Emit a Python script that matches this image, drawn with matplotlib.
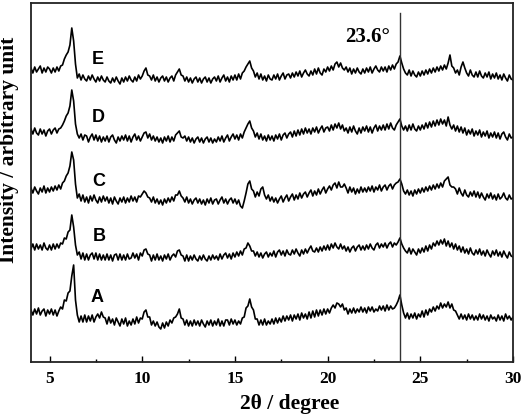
import numpy as np
import matplotlib
matplotlib.use('Agg')
import matplotlib.pyplot as plt
from matplotlib.ticker import MultipleLocator

# 2theta grid, 4.0 .. 30.0 step 0.1
two_theta = np.round(np.arange(4.0, 30.05, 0.1), 1)

# intensities (arb.) relative to each pattern's own baseline
sample_A = [
    2, -3, 3, -2, 4, -3, 1, 3, -4, 2,
    -2, 3, -3, 2, -4, 1, 5, 3, 12, 11,
    19, 21, 36, 47, 12, -3, -10, -4, -10, -3,
    -10, -4, -9, -3, -10, -5, -2, -6, 0, -5,
    -6, -12, -5, -11, -7, -13, -6, -10, -14, -7,
    -12, -6, -14, -9, -13, -7, -12, -5, -11, -6,
    -7, 0, 2, -5, -5, -13, -9, -14, -10, -15,
    -17, -11, -16, -10, -14, -8, -11, -6, -5, -2,
    3, -6, -7, -13, -8, -14, -9, -14, -8, -13,
    -9, -14, -8, -12, -15, -9, -13, -8, -14, -9,
    -13, -7, -14, -9, -14, -8, -8, -13, -7, -12,
    -8, -13, -9, -12, -6, -5, 4, 6, 13, 5,
    2, -7, -7, -13, -8, -13, -7, -13, -9, -12,
    -7, -12, -6, -11, -6, -10, -4, -9, -4, -8,
    -3, -9, -3, -7, -2, -8, -1, -6, -2, -7,
    0, -6, 1, -5, 2, -4, 2, -3, 3, -2,
    3, -1, 4, 7, 4, 9, 8, 5, 8, 2,
    4, -2, 3, -1, 4, -1, 3, 0, 5, 0,
    4, -1, 5, 1, 5, 0, 3, 1, 6, 2,
    6, 1, 7, 2, 6, 3, 4, 7, 11, 17,
    7, -1, -6, -1, -7, -2, -6, -1, -7, -2,
    -5, 1, -5, 2, -3, 3, 0, 5, 1, 6,
    3, 9, 4, 8, 5, 10, 4, 8, 2, 1,
    -3, -7, -2, -7, -3, -8, -2, -7, -3, -8,
    -4, -8, -2, -7, -3, -8, -4, -9, -3, -7,
    -5, -9, -3, -8, -4, -9, -2, -7, -4, -8,
    -5]

sample_B = [
    -2, 3, -3, 3, -2, 2, -3, 4, -1, -3,
    2, -3, 3, -2, 3, -1, 4, 3, 9, 8,
    15, 17, 32, 20, 2, -8, -5, -12, -6, -13,
    -7, -13, -8, -6, -12, -6, -13, -7, -13, -8,
    -13, -7, -13, -8, -14, -8, -7, -13, -7, -13,
    -8, -13, -7, -12, -11, -6, -11, -7, -13, -6,
    -9, -3, -2, -7, -8, -14, -8, -13, -7, -13,
    -9, -14, -8, -12, -7, -13, -9, -7, -10, -4,
    -3, -8, -9, -14, -8, -14, -9, -13, -8, -12,
    -14, -9, -13, -8, -12, -14, -9, -13, -8, -12,
    -9, -13, -7, -12, -8, -6, -11, -7, -12, -6,
    -10, -5, -9, -4, -8, -2, -1, 4, 1, -4,
    -4, -9, -5, -10, -6, -11, -7, -5, -10, -6,
    -9, -4, -10, -5, -3, -8, -4, -9, -3, -7,
    -8, -3, -7, -2, -6, -9, -3, -7, -2, -6,
    -2, 1, -4, -5, -1, -5, 0, -4, 1, -3,
    2, -3, 3, -1, 4, 0, -2, 3, -2, 1,
    -4, 0, -5, -1, 1, -4, 0, 2, -3, 1,
    -3, 2, -2, 3, -1, -3, 2, 4, -1, 3,
    0, 4, -1, 3, 5, 0, 4, 2, 5, 9,
    3, -1, -4, -6, -1, -7, -2, -5, -8, -2,
    -6, -1, -5, 1, -4, 2, -2, 4, 1, 6,
    2, 7, 3, 8, 1, 6, 0, 4, -2, 3,
    -3, 1, -5, 0, -6, -2, -7, -1, -6, -8,
    -3, -7, -2, -8, -4, -9, -3, -7, -10, -4,
    -8, -3, -9, -5, -10, -4, -8, -11, -5, -9,
    -10]

sample_C = [
    2, -3, 3, -1, -4, 2, -2, 4, -3, 2,
    -2, 3, -1, 4, 0, 5, 1, 7, 9, 14,
    17, 24, 38, 30, 6, -8, -4, -11, -5, -12,
    -7, -13, -6, -11, -5, -10, -13, -7, -12, -6,
    -11, -7, -13, -8, -14, -7, -11, -14, -8, -12,
    -7, -13, -8, -12, -6, -11, -7, -12, -6, -7,
    -4, -1, -3, -7, -8, -12, -7, -13, -9, -14,
    -10, -15, -9, -13, -8, -12, -7, -11, -5, -5,
    -1, -6, -8, -12, -7, -13, -9, -14, -10, -8,
    -13, -9, -14, -10, -15, -9, -13, -8, -14, -10,
    -9, -14, -10, -7, -13, -9, -14, -10, -8, -13,
    -9, -14, -10, -16, -18, -11, -3, 6, 9, 1,
    -1, -7, -2, -6, 1, 3, -5, -9, -5, -11,
    -7, -12, -8, -13, -9, -6, -12, -8, -5, -11,
    -7, -4, -10, -5, -9, -3, -8, -4, -2, -7,
    -3, 0, -6, -1, -5, 1, -4, 0, 3, -3,
    1, 4, 0, 5, 7, 2, 8, 3, 3, 6,
    2, -3, 3, -2, 2, -4, 1, -3, 3, -2,
    2, -2, 3, -1, 4, -2, 3, 0, 5, -1,
    3, 5, 0, 4, 6, 1, 5, 7, 8, 11,
    6, -1, -4, 0, -5, -1, -6, 0, -4, 1,
    -3, 2, -2, 3, -1, 4, 0, 5, 1, 6,
    2, 7, 3, 9, 11, 13, 5, 3, 3, 1,
    -4, 2, -3, -6, 0, -5, -7, -2, -6, -1,
    -7, -2, -8, -3, -7, -10, -4, -8, -3, -9,
    -5, -10, -4, -9, -7, -3, -8, -10, -5, -9,
    -8]

sample_D = [
    3, -2, 4, -1, -3, 3, -2, 2, -4, 1,
    3, -2, 2, 4, -1, 3, 4, 7, 11, 16,
    19, 26, 42, 31, 8, -2, -6, -2, -8, -3,
    -4, -10, -5, -2, -8, -3, -9, -4, -10, -5,
    -9, -4, -10, -5, -3, -8, -11, -5, -9, -4,
    -8, -3, -9, -4, -10, -5, -2, -8, -4, -9,
    -5, -1, 0, -6, -2, -8, -4, -9, -5, -10,
    -6, -11, -5, -9, -4, -10, -5, -9, -3, -1,
    1, -5, -6, -4, -9, -5, -10, -6, -11, -7,
    -5, -10, -6, -11, -7, -5, -10, -6, -11, -7,
    -10, -5, -9, -4, -10, -6, -3, -9, -5, -2,
    -7, -3, -8, -2, -6, 0, 4, 8, 11, 4,
    1, -5, -1, -7, -2, -8, -4, -9, -3, -8,
    -4, -9, -3, -7, -2, -8, -3, -1, -6, -2,
    0, -5, 1, -4, 2, -3, 3, -2, 4, -1,
    3, -2, 4, 0, 5, -1, 3, 6, 0, 4,
    5, 1, 7, 2, 8, 4, 9, 3, 7, 1,
    4, -1, 5, 0, 6, 1, -2, 4, -1, 5,
    1, 6, 0, 5, -1, 4, 7, 1, 6, 2,
    7, 2, 8, 3, 9, 4, 2, 7, 10, 13,
    6, 2, 6, 1, 7, 2, 8, 3, 1, 6,
    2, 7, 3, 9, 4, 10, 5, 11, 6, 12,
    7, 13, 8, 12, 6, 15, 7, 3, 7, 1,
    6, 0, 5, -1, 4, -3, 2, -2, 3, -4,
    1, -3, 2, -5, 0, -4, 1, -6, -1, -5,
    0, -6, -1, -7, -2, 0, -5, -8, -2, -6,
    -5]

sample_E = [
    2, -3, 3, -2, 1, 4, -3, 2, -2, 3,
    1, -3, 2, -2, 3, -1, 4, 5, 11, 15,
    18, 25, 42, 29, 6, -8, -4, -10, -5, -9,
    -11, -6, -10, -5, -9, -12, -7, -11, -6, -10,
    -12, -7, -11, -13, -8, -12, -7, -11, -14, -8,
    -12, -7, -11, -6, -10, -12, -7, -11, -5, -9,
    -6, -1, 2, -5, -6, -10, -5, -11, -7, -12,
    -8, -6, -11, -7, -12, -8, -6, -11, -5, -2,
    1, -5, -6, -11, -7, -12, -8, -13, -9, -7,
    -12, -8, -13, -9, -7, -12, -8, -13, -9, -7,
    -11, -6, -12, -8, -5, -11, -7, -12, -6, -10,
    -5, -10, -4, -9, -3, -1, 3, 6, 9, 2,
    -1, -7, -3, -9, -4, -10, -6, -11, -5, -9,
    -10, -5, -9, -4, -10, -6, -3, -9, -5, -4,
    -8, -3, -7, -2, -6, -1, -7, -3, 0, -4,
    -6, -1, -5, 1, -4, 2, -3, -5, 1, -2,
    3, -1, 4, 0, 6, 8, 3, 7, 2, 0,
    3, -2, 2, -4, 1, -3, 2, -2, -4, 1,
    -3, 2, -2, 3, -3, 1, 4, 0, -2, 3,
    -1, 3, -2, 4, 0, 5, 1, 6, 8, 14,
    7, 1, -3, -5, 0, -6, -1, -5, -7, -2,
    -6, -1, -5, 0, -4, 1, -3, 2, -2, 3,
    -1, 4, 0, 5, 1, 7, 15, 4, 2, -3,
    0, -5, 3, 8, 2, -3, -6, 0, -5, -7,
    -2, -7, -1, -6, -8, -3, -7, -2, -9, -4,
    -8, -3, -9, -5, -10, -4, -8, -11, -5, -9,
    -10]

labels = ['A', 'B', 'C', 'D', 'E']
patterns = [sample_A, sample_B, sample_C, sample_D, sample_E]
offsets = [50, 115, 172, 230, 292]
label_pos = [(7.55, 64), (7.7, 126), (7.65, 181), (7.65, 245), (7.6, 303)]
marker_2theta = 23.9

serif = ['Liberation Serif', 'DejaVu Serif']
sans = ['Liberation Sans', 'DejaVu Sans']

fig = plt.figure(figsize=(5.26, 4.19), dpi=100)
ax = fig.add_axes([31 / 526, 57 / 419, 482 / 526, 359 / 419])

for lab, y, off, (lx, ly) in zip(labels, patterns, offsets, label_pos):
    ax.plot(two_theta, np.array(y) + off, color='black', lw=1.2)
    ax.text(lx, ly, lab, fontsize=13, fontweight='bold', family=sans,
            ha='center', va='center')

ax.plot([marker_2theta, marker_2theta], [0, 349], color='#333333', lw=1.0)
ax.text(22.15, 325, '23.6\u00b0', fontsize=15, fontweight='bold', family=serif,
        ha='center', va='center')

ax.set_xlim(4, 30)
ax.set_ylim(0, 359)
ax.set_yticks([])
ax.xaxis.set_major_locator(MultipleLocator(5))
ax.xaxis.set_minor_locator(MultipleLocator(2.5))
ax.tick_params(axis='x', which='major', direction='in', length=4, width=1,
               pad=6.5, labelsize=12.5)
ax.tick_params(axis='x', which='minor', direction='in', length=2.5, width=1)
for t in ax.get_xticklabels():
    t.set_fontweight('bold')
    t.set_family(serif)
for s in ax.spines.values():
    s.set_linewidth(1.3)
    s.set_color('#222222')

ax.set_xlabel('2\u03b8 / degree', fontsize=15.5, fontweight='bold', family=serif)
ax.xaxis.set_label_coords(0.537, -0.089)
ax.set_ylabel('Intensity / arbitrary unit', fontsize=15.5, fontweight='bold',
              family=serif)
ax.yaxis.set_label_coords(-0.025, 0.59)

fig.savefig('out.png', dpi=100)
